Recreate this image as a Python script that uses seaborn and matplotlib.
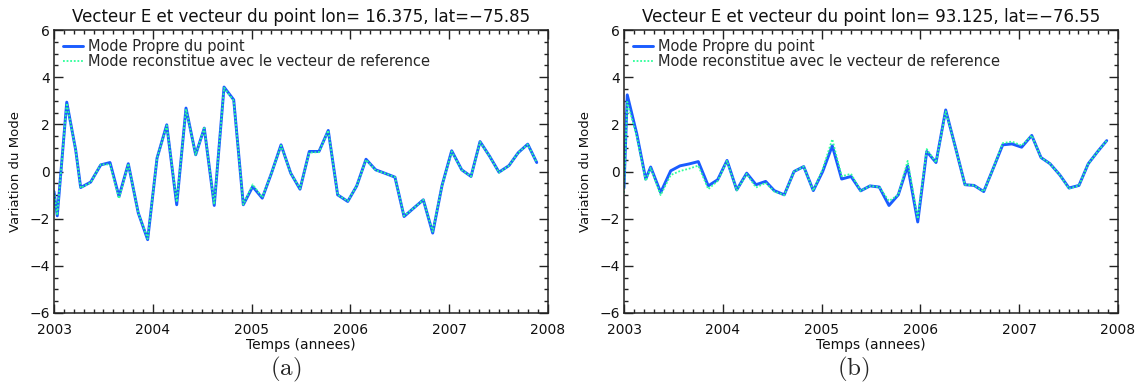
import numpy as np
import pandas as pd
import matplotlib
matplotlib.use("Agg")
import matplotlib.pyplot as plt
import seaborn as sns
from matplotlib.ticker import MultipleLocator

# Sampling dates (decimal years)
temps = [2003.000, 2003.033, 2003.129, 2003.220, 2003.270, 2003.371, 2003.473,
         2003.567, 2003.658, 2003.752, 2003.853, 2003.948, 2004.043, 2004.141,
         2004.242, 2004.336, 2004.434, 2004.521, 2004.622, 2004.721, 2004.819,
         2004.916, 2005.011, 2005.108, 2005.203, 2005.298, 2005.396, 2005.490,
         2005.584, 2005.682, 2005.776, 2005.871, 2005.973, 2006.064, 2006.158,
         2006.256, 2006.353, 2006.451, 2006.543, 2006.641, 2006.738, 2006.833,
         2006.927, 2007.025, 2007.127, 2007.221, 2007.312, 2007.410, 2007.504,
         2007.605, 2007.699, 2007.795, 2007.886]

# Point lon=16.375, lat=-75.85
mode_a = [-0.85, -1.88, 2.94, 0.90, -0.68, -0.45, 0.28, 0.38, -1.06, 0.33, -1.76,
          -2.89, 0.57, 1.98, -1.41, 2.69, 0.71, 1.84, -1.44, 3.58, 3.04, -1.41,
          -0.64, -1.13, -0.05, 1.13, -0.07, -0.75, 0.85, 0.85, 1.74, -0.99, -1.27,
          -0.61, 0.52, 0.07, -0.08, -0.24, -1.91, -1.55, -1.20, -2.61, -0.60, 0.88,
          0.07, -0.21, 1.27, 0.64, -0.03, 0.25, 0.80, 1.16, 0.38]
reco_a = [-0.85, -1.85, 2.90, 0.90, -0.70, -0.47, 0.30, 0.30, -1.15, 0.33, -1.76,
          -2.85, 0.57, 1.95, -1.30, 2.65, 0.71, 1.84, -1.40, 3.55, 3.00, -1.40,
          -0.55, -1.10, -0.05, 1.10, -0.07, -0.72, 0.80, 0.82, 1.74, -0.99, -1.25,
          -0.61, 0.50, 0.05, -0.08, -0.24, -1.88, -1.55, -1.20, -2.55, -0.60, 0.85,
          0.07, -0.21, 1.25, 0.64, -0.05, 0.25, 0.80, 1.15, 0.38]

# Point lon=93.125, lat=-76.55
mode_b = [-0.70, 3.25, 1.60, -0.32, 0.19, -0.89, 0.03, 0.24, 0.32, 0.42, -0.61,
          -0.35, 0.47, -0.78, -0.07, -0.56, -0.42, -0.81, -0.99, 0.00, 0.21, -0.81,
          0.00, 1.09, -0.32, -0.21, -0.82, -0.61, -0.66, -1.44, -0.99, 0.24, -2.14,
          0.85, 0.38, 2.61, 1.05, -0.56, -0.59, -0.85, 0.14, 1.13, 1.17, 1.03, 1.53,
          0.59, 0.33, -0.14, -0.70, -0.59, 0.33, 0.85, 1.31]
reco_b = [-0.90, 2.95, 1.50, -0.40, 0.15, -1.00, -0.15, 0.02, 0.12, 0.25, -0.75,
          -0.40, 0.45, -0.80, -0.10, -0.68, -0.48, -0.85, -1.00, 0.00, 0.21, -0.81,
          0.10, 1.37, -0.20, -0.10, -0.82, -0.61, -0.66, -1.25, -0.99, 0.45, -2.00,
          0.95, 0.38, 2.55, 1.05, -0.56, -0.59, -0.85, 0.14, 1.20, 1.27, 1.10, 1.53,
          0.59, 0.33, -0.14, -0.73, -0.59, 0.33, 0.85, 1.31]

titres = ["Vecteur E et vecteur du point lon= 16.375, lat=\u221275.85",
          "Vecteur E et vecteur du point lon= 93.125, lat=\u221276.55"]
legendes = ["Mode Propre du point", "Mode reconstitue avec le vecteur de reference"]
sous_titres = [r"$\mathrm{(a)}$", r"$\mathrm{(b)}$"]

sns.set_style("ticks")
plt.rcParams["font.family"] = ["DejaVu Sans"]
plt.rcParams["axes.unicode_minus"] = True

BLEU = "#1a5cff"
VERT = "#2dff9a"

fig = plt.figure(figsize=(11.41, 3.85), dpi=100)
W, H = 1141, 385
axes_px = [(54, 548), (624, 1118)]
top_px, bot_px = 30, 313

for i, (x0, x1) in enumerate(axes_px):
    ax = fig.add_axes([x0 / W, 1 - bot_px / H, (x1 - x0) / W, (bot_px - top_px) / H])
    df = pd.DataFrame({"temps": temps,
                       "mode": [mode_a, mode_b][i],
                       "reco": [reco_a, reco_b][i]})
    sns.lineplot(data=df, x="temps", y="mode", ax=ax, color=BLEU, lw=2.1,
                 estimator=None, label=legendes[0])
    sns.lineplot(data=df, x="temps", y="reco", ax=ax, color=VERT, lw=1.3,
                 linestyle=(0, (1, 1)), estimator=None, label=legendes[1])

    ax.set_xlim(2003, 2008)
    ax.set_ylim(-6, 6)
    ax.xaxis.set_major_locator(MultipleLocator(1))
    ax.xaxis.set_minor_locator(MultipleLocator(0.1))
    ax.yaxis.set_major_locator(MultipleLocator(2))
    ax.yaxis.set_minor_locator(MultipleLocator(0.5))
    ax.tick_params(which="both", direction="in", top=True, right=True,
                   width=1.0, color="#222222", labelsize=10, labelcolor="#111111")
    ax.tick_params(which="major", length=6.5)
    ax.tick_params(which="minor", length=3.2)
    ax.tick_params(axis="x", pad=7)
    ax.tick_params(axis="y", pad=3)
    for s in ax.spines.values():
        s.set_linewidth(1.1)
        s.set_color("#222222")

    ax.set_title(titres[i], fontsize=12, pad=6, color="#111111")
    ax.set_xlabel("Temps (annees)", fontsize=10, labelpad=1, color="#111111")
    ax.set_ylabel("Variation du Mode", fontsize=9.5, labelpad=5, color="#111111")

    ax.legend(loc="upper left", bbox_to_anchor=(0.018, 0.967), frameon=False,
              fontsize=10.5, handlelength=1.35, handletextpad=0.35,
              labelspacing=0.0, borderaxespad=0, borderpad=0)

    fig.text([0.25, 0.748][i], 0.04, sous_titres[i], ha="center", va="center",
             fontsize=18, math_fontfamily="cm")

fig.savefig("out.png", dpi=100)
